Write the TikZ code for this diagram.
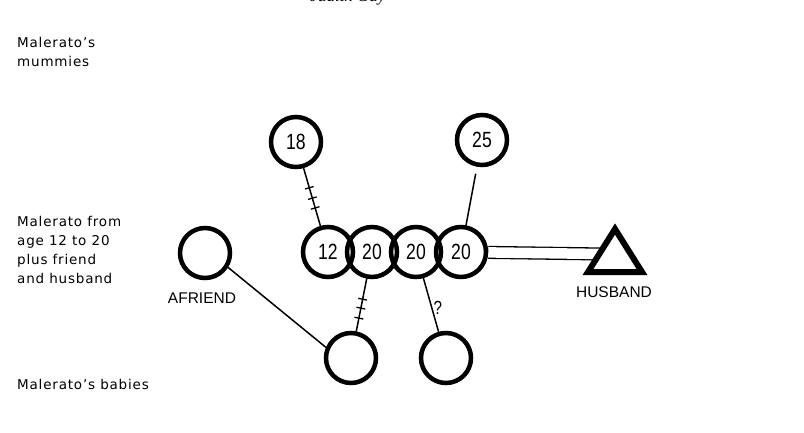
\documentclass[tikz,border=0pt]{standalone}
\usepackage{fontspec}
\setmainfont{Liberation Sans}
\newfontfamily\lblfont[LetterSpace=6]{DejaVu Sans}
\newfontfamily\numfont[FakeStretch=0.8]{Liberation Sans}
\newfontfamily\handfont{Liberation Sans}
\newfontfamily\hdrfont{Liberation Serif}
\usetikzlibrary{decorations.markings,backgrounds}
\begin{document}
\begin{tikzpicture}[x=1pt,y=-1pt,
  ring/.style={circle,draw,line width=4.5pt,minimum size=50pt,inner sep=0pt,
    font=\numfont\fontsize{22}{22}\selectfont},
  conn/.style={line width=1.5pt},
  tickmarks/.style n args={3}{postaction={decorate},decoration={markings,
    mark=at position #1 with {\draw[line width=1.3pt] (0,-4.5pt) -- (0,4.5pt);},
    mark=at position #2 with {\draw[line width=1.3pt] (0,-4.5pt) -- (0,4.5pt);},
    mark=at position #3 with {\draw[line width=1.3pt] (0,-4.5pt) -- (0,4.5pt);}}},
  side/.style={anchor=north west,align=left,inner sep=0pt,
    font=\lblfont\fontsize{13.5}{19}\selectfont},
  caps/.style={anchor=base,inner sep=0pt,font=\handfont\fontsize{15.5}{15.5}\selectfont},
  dbl/.style={double,double distance=10.5pt,line width=1.3pt}
]
\useasboundingbox (0,0) rectangle (804,432);

% header (cut off at the top edge, as in the reference)
\node[anchor=base,inner sep=0pt,font=\hdrfont\itshape\fontsize{17}{17}\selectfont] (hdr) at (348,1.5) {Judith Gay};

% side labels
\node[side] (lmum) at (17,37) {Malerato’s\\mummies};
\node[side] (lmal) at (17,215.6) {Malerato from\\age 12 to 20\\plus friend\\and husband};
\node[side] (lbab) at (17,379) {Malerato’s babies};

% mummies
\node[ring] (m18) at (296,142) {18};
\node[ring] (m25) at (482,140) {25};

% Malerato over the years
\node[ring] (c12) at (328,252) {12};
\node[ring] (c20a) at (372,252) {20};
\node[ring] (c20b) at (416,252) {20};
\node[ring] (c20c) at (461,252) {20};

% friend
\node[ring] (friend) at (205,253) {};
\node[caps] (lfriend) at (202,303.3) {AFRIEND};

% babies
\node[ring] (b1) at (351,358) {};
\node[ring] (b2) at (446,358) {};

% husband
\draw[line width=6pt,line join=miter,fill=white] (615,229) -- (642,272) -- (588,272) -- cycle;
\coordinate (husb) at (603,254);
\node[caps] (lhusb) at (614,297.3) {HUSBAND};

% connectors
\draw[conn,tickmarks={0.34}{0.52}{0.69}] (m18) -- (c12);
\draw[conn,shorten <=7pt] (m25) -- (c20c);
\draw[conn,tickmarks={0.39}{0.56}{0.75}] (c20a) -- (b1);
\draw[conn] (c20b) -- (b2) node[pos=0.55,right=1pt,inner sep=0pt,font=\numfont\fontsize{19}{19}\selectfont] (q) {?};
\draw[conn] (friend.-32) -- (b1.157);
\begin{scope}[on background layer]
\draw[dbl] (c20c) -- (husb);
\end{scope}
\end{tikzpicture}
\end{document}
